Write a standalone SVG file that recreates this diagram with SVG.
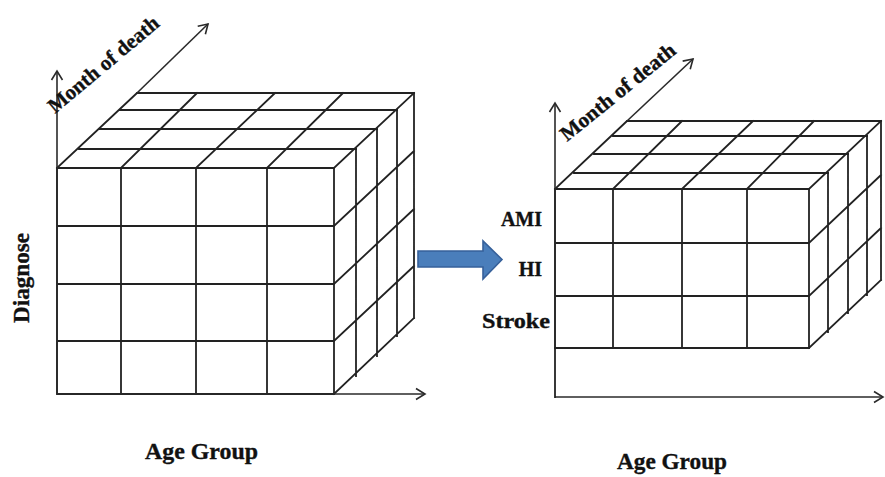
<svg xmlns="http://www.w3.org/2000/svg" width="885" height="477" viewBox="0 0 885 477">
  <style>
    .grid { fill: none; stroke: #222; stroke-width: 1.8; stroke-linecap: square; }
    .axis { fill: none; stroke: #2a2a2a; stroke-width: 1.6; marker-end: url(#tip); }
    .lbl { font-family: "Liberation Serif", "Times New Roman", serif; font-weight: bold; fill: #111; stroke: #111; stroke-width: 0.35; }
    .flow { fill: #4a7ebb; stroke: #36609a; stroke-width: 1.6; }
  </style>
  <defs>
    <marker id="tip" viewBox="-11 -7 13 14" refX="0" refY="0" markerWidth="13" markerHeight="14" markerUnits="userSpaceOnUse" orient="auto">
      <path d="M-9,-5.5 L0,0 L-9,5.5" fill="none" stroke="#2a2a2a" stroke-width="1.6"/>
    </marker>
  </defs>
  <rect width="885" height="477" fill="#fff"/>

  <!-- full data cube: 4 age groups x 4 diagnoses x 4 months -->
  <g id="cube-full">
    <!-- front face -->
    <path class="grid" d="M57,168 H334 V394 H57 Z
      M57,226 H334 M57,284 H334 M57,341 H334
      M121,168 V394 M196,168 V394 M267,168 V394"/>
    <!-- top face -->
    <path class="grid" d="M79,149 H356 M100,129 H377 M120,110 H397 M137,93 H414
      M57,168 L137,93 M121,168 L197,93 M196,168 L275,93 M267,168 L343,93 M334,168 L414,93"/>
    <!-- side face -->
    <path class="grid" d="M356,149 V376 M377,129 V356 M397,110 V336 M414,93 V318
      M334,226 L414,151 M334,284 L414,209 M334,341 L414,266 M334,394 L414,318"/>
  </g>

  <!-- sliced cube: 4 age groups x 3 diagnoses x 4 months -->
  <g id="cube-slice">
    <!-- front face -->
    <path class="grid" d="M555,189 H809 V348 H555 Z
      M555,243 H809 M555,296 H809
      M613,189 V348 M682,189 V348 M747,189 V348"/>
    <!-- top face -->
    <path class="grid" d="M574,173 H828 M594,154 H848 M613,136 H867 M627,121 H881
      M555,189 L627,121 M613,189 L682,121 M682,189 L753,121 M747,189 L814,121 M809,189 L881,121"/>
    <!-- side face -->
    <path class="grid" d="M828,173 V332 M848,154 V313 M867,136 V295 M881,121 V280
      M809,243 L881,175 M809,296 L881,228 M809,348 L881,280"/>
  </g>

  <!-- axes and the transformation arrow -->
  <g id="connectors">
    <path class="axis" d="M57,394 V71"/>
    <path class="axis" d="M57,394 H425"/>
    <path class="axis" d="M137,93 L208,24"/>
    <path class="axis" d="M555,348 V103"/>
    <path class="axis" d="M555,397 H883"/>
    <path class="grid" d="M555,348 V397"/>
    <path class="axis" d="M627,121 L693,59"/>
    <polygon id="slice-arrow" class="flow" points="418,251 483,251 483,241 502,259.5 483,279 483,267 418,267"/>
  </g>

  <!-- axis and member labels -->
  <g id="labels">
    <text class="lbl" font-size="21" transform="translate(55,114) rotate(-40)" textLength="138" lengthAdjust="spacingAndGlyphs">Month of death</text>
    <text class="lbl" font-size="23" text-anchor="middle" transform="translate(29,278) rotate(-90)" textLength="90" lengthAdjust="spacingAndGlyphs">Diagnose</text>
    <text class="lbl" font-size="23" x="145" y="459" textLength="113" lengthAdjust="spacingAndGlyphs">Age Group</text>

    <text class="lbl" font-size="21" transform="translate(567,142) rotate(-39)" textLength="142" lengthAdjust="spacingAndGlyphs">Month of death</text>
    <text class="lbl" font-size="20" x="542" y="226" text-anchor="end">AMI</text>
    <text class="lbl" font-size="20" x="542" y="276" text-anchor="end">HI</text>
    <text class="lbl" font-size="20" x="482" y="328" textLength="68" lengthAdjust="spacingAndGlyphs">Stroke</text>
    <text class="lbl" font-size="23" x="617" y="469" textLength="110" lengthAdjust="spacingAndGlyphs">Age Group</text>
  </g>
</svg>
